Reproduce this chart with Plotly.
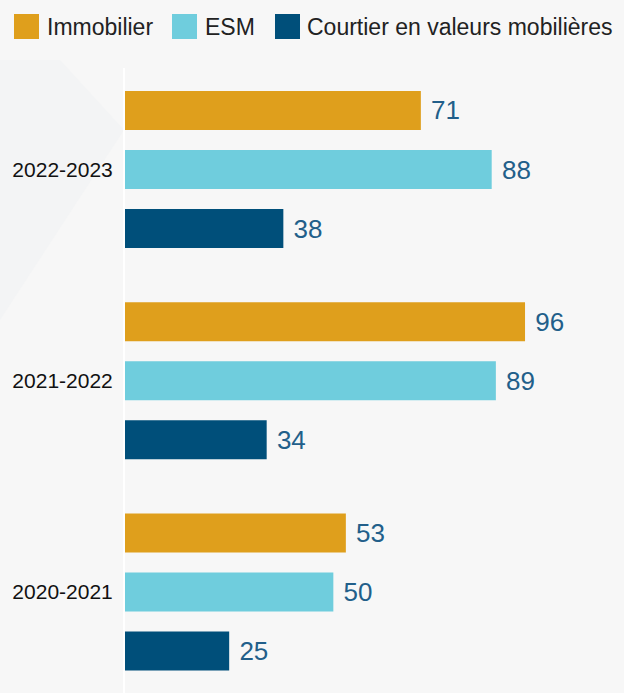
import plotly.graph_objects as go

categories = ["2022-2023", "2021-2022", "2020-2021"]
series_names = ["Immobilier", "ESM", "Courtier en valeurs mobilières"]
immobilier = [71, 96, 53]
esm = [88, 89, 50]
courtier = [38, 34, 25]
series_values = [immobilier, esm, courtier]
colors = ["#df9f1c", "#6fcddd", "#004f7a"]

W, H = 624, 693
L, R, T, B = 125, 0, 68, 0
PW, PH = W - L - R, H - T - B

fig = go.Figure()
for name, vals, col in zip(series_names, series_values, colors):
    fig.add_trace(go.Bar(
        y=categories, x=vals, name=name, orientation="h",
        marker=dict(color=col, line=dict(width=0)),
        text=vals, texttemplate="\u00a0%{x}", textposition="outside",
        textfont=dict(size=26, color="#225f8a", family="Liberation Sans, Arial, sans-serif"),
        cliponaxis=False, showlegend=False, hoverinfo="skip",
    ))

def px2paper_x(px):
    return (px - L) / PW

def px2paper_y(py):
    return 1 - (py - T) / PH

shapes = []
# faint decorative background shape
shapes.append(dict(type="path", xref="paper", yref="paper", layer="below",
                   path="M {} {} L {} {} L {} {} L {} {} Z".format(
                       px2paper_x(0), px2paper_y(60), px2paper_x(60), px2paper_y(60),
                       px2paper_x(124), px2paper_y(130), px2paper_x(0), px2paper_y(320)),
                   fillcolor="#f3f4f5", line=dict(width=0)))

annotations = []
legend_sq_x = [14, 172, 275]
legend_tx_x = [45, 203, 305]
for i, (name, col) in enumerate(zip(series_names, colors)):
    shapes.append(dict(type="rect", xref="paper", yref="paper",
                       x0=px2paper_x(legend_sq_x[i]), x1=px2paper_x(legend_sq_x[i] + 25),
                       y0=px2paper_y(39), y1=px2paper_y(14),
                       fillcolor=col, line=dict(width=0)))
    annotations.append(dict(xref="paper", yref="paper", x=px2paper_x(legend_tx_x[i]),
                            y=px2paper_y(27), xanchor="left", yanchor="middle",
                            text=name, showarrow=False,
                            font=dict(size=23, color="#222222",
                                      family="Liberation Sans, Arial, sans-serif")))

fig.update_layout(
    width=W, height=H,
    margin=dict(l=L, r=R, t=T, b=B, pad=0),
    paper_bgcolor="#f7f7f7", plot_bgcolor="rgba(0,0,0,0)",
    barmode="group", bargap=0.162, bargroupgap=0.339,
    shapes=shapes, annotations=annotations,
    xaxis=dict(visible=False, range=[0, PW / 4.167], fixedrange=True),
    yaxis=dict(categoryorder="array", categoryarray=categories,
               range=[2.478, -0.4805], showgrid=False, zeroline=False,
               showline=True, linecolor="#ffffff", linewidth=2,
               ticks="", ticklabelstandoff=6,
               tickfont=dict(size=21, color="#111111",
                             family="Liberation Sans, Arial, sans-serif")),
    font=dict(family="Liberation Sans, Arial, sans-serif"),
)

fig.write_html("out.html")
